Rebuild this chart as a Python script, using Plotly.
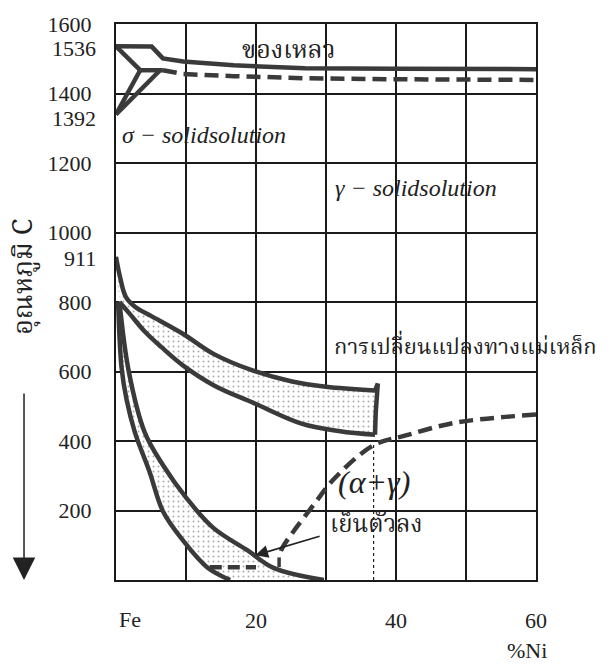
import plotly.graph_objects as go

# ---------------- data (drawn scale) ----------------
# liquidus (solid) and solidus (dashed) near the top
liq_x = [0, 5.1, 6.7, 9.6, 16.8, 27, 40, 60]
liq_t = [1536, 1535, 1501, 1492, 1481, 1473, 1471, 1470]
sol_x = [6.7, 9.6, 16.8, 27, 40, 60]
sol_t = [1467, 1456, 1450, 1444, 1441, 1439]
# delta region lines
d1_x = [0, 3.45];  d1_t = [1536, 1467]
d2_x = [0, 3.45];  d2_t = [1340, 1467]
d3_x = [0, 6.3];   d3_t = [1340, 1467]
d4_x = [3.45, 6.7]; d4_t = [1467, 1467]

# upper (heating) transformation band
u1_x = [0, 0.6, 1.4, 2.8, 5.0, 9.6, 14, 19.5, 25, 30, 37]
u1_t = [930, 870, 815, 785, 760, 708, 650, 603, 572, 556, 545]
u2_x = [0.5, 2.0, 4.1, 6.5, 9.6, 14, 19.7, 26.5, 32, 37]
u2_t = [800, 765, 715, 670, 617, 560, 509, 450, 428, 418]
ue_x = [37, 37.4, 37.1, 37]
ue_t = [545, 565, 480, 418]

# lower (cooling) transformation band
l1_x = [0.3, 0.8, 1.5, 2.7, 4.8, 6.7, 9.6, 13.0, 16.3]
l1_t = [800, 610, 520, 425, 311, 198, 113, 37, 0]
l2_x = [0.5, 1.8, 4.1, 6.7, 10.1, 13.9, 18.8, 22.5, 29.7]
l2_t = [800, 603, 425, 331, 235, 150, 85, 35, 0]

# magnetic transformation (dashed)
mag_x = [60, 48.6, 41.4, 36.8, 31.2, 28.3, 25.4, 23.7, 23.3]
mag_t = [476, 453, 416, 388, 292, 218, 141, 90, 65]
magtick_x = [23.3, 23.3]; magtick_t = [65, 37]
magbot_x = [13.4, 20.0]; magbot_t = [37, 37]
# thin dotted vertical
vline_x = [36.8, 36.8]; vline_t = [0, 400]

# axes
x_ticks = [0, 10, 20, 30, 40, 50, 60]
x_labels = ["", "", "20", "", "40", "", "60"]
y_ticks = [0, 200, 400, 600, 800, 1000, 1200, 1400, 1600]
y_labels = ["", "200", "400", "600", "800", "1000", "1200", "1400", "1600"]
extra_y_pos = [1530, 1328, 925]
extra_y_text = ["1536", "1392", "911"]

LC = "#3a3a3a"
LW = 4.5
SERIF = "Liberation Serif"
THAI = "Norasi, Kinnari, Laksaman, Garuda, Noto Serif Thai, Noto Sans Thai Looped, Loma, Noto Sans Thai, sans-serif"

fig = go.Figure()

def line(x, y, dash=None, width=LW, shape="spline", color=LC):
    fig.add_trace(go.Scatter(x=x, y=y, mode="lines",
                             line=dict(color=color, width=width, dash=dash, shape=shape),
                             hoverinfo="skip", showlegend=False))

# hatched fills
fig.add_trace(go.Scatter(x=u1_x + ue_x[1:] + u2_x[::-1], y=u1_t + ue_t[1:] + u2_t[::-1],
                         mode="lines", fill="toself", fillcolor="white",
                         fillpattern=dict(shape=".", fgcolor="#555", bgcolor="white", size=5, solidity=0.12),
                         line=dict(width=0, shape="spline"), hoverinfo="skip", showlegend=False))
fig.add_trace(go.Scatter(x=l1_x + l2_x[::-1], y=l1_t + l2_t[::-1],
                         mode="lines", fill="toself", fillcolor="white",
                         fillpattern=dict(shape=".", fgcolor="#555", bgcolor="white", size=5, solidity=0.12),
                         line=dict(width=0, shape="spline"), hoverinfo="skip", showlegend=False))

line(liq_x, liq_t, shape="linear")
line(sol_x, sol_t, dash="14px,7px", shape="linear")
line(d1_x, d1_t, shape="linear")
line(d2_x, d2_t, shape="linear")
line(d3_x, d3_t, shape="linear")
line(d4_x, d4_t, shape="linear")
line(u1_x, u1_t)
line(u2_x, u2_t)
line(ue_x, ue_t, shape="linear")
line(l1_x, l1_t)
line(l2_x, l2_t)
line(mag_x, mag_t, dash="14px,7px")
line(magtick_x, magtick_t, shape="linear", width=3.5)
line(magbot_x, magbot_t, dash="12px,6px", shape="linear")
line(vline_x, vline_t, dash="3px,3px", width=1.2, shape="linear", color="#222")

ann = []
def txt(x, y, s, size=22, xanchor="left", family=SERIF, xref="x", yref="y", angle=0):
    ann.append(dict(x=x, y=y, xref=xref, yref=yref, text=s, showarrow=False,
                    xanchor=xanchor, yanchor="middle", textangle=angle,
                    font=dict(size=size, family=family, color="#222")))

txt(24.7, 1521, "ของเหลว", size=25, xanchor="center", family=THAI)
txt(0.5, 1280, "<i>σ − solidsolution</i>", size=24)
txt(31.0, 1127, "<i>γ − solidsolution</i>", size=24)
txt(30.9, 668, "การเปลี่ยนแปลงทางแม่เหล็ก", size=22, family=THAI)
txt(31.4, 282, "<i>(α+γ)</i>", size=32)
txt(-0.5, 311, "<i>α −slidsolution</i>", size=24)
txt(30.3, 156, "เย็นตัวลง", size=24, family=THAI)

for p, s in zip(extra_y_pos, extra_y_text):
    ann.append(dict(x=0, y=p, xref="paper", yref="y", text=s, showarrow=False,
                    xanchor="right", yanchor="middle", xshift=-18,
                    font=dict(size=22, family=SERIF, color="#222")))

ann.append(dict(x=2.0, y=-0.0708, xref="x", yref="paper", text="Fe", showarrow=False,
                xanchor="center", yanchor="middle", font=dict(size=22, family=SERIF, color="#222")))
ann.append(dict(x=0.979, y=-0.126, xref="paper", yref="paper", text="%Ni", showarrow=False,
                xanchor="center", yanchor="middle", font=dict(size=22, family=SERIF, color="#222")))
ann.append(dict(x=-0.217, y=0.545, xref="paper", yref="paper", text="อุณหภูมิ C", showarrow=False,
                textangle=-90, xanchor="center", yanchor="middle",
                font=dict(size=27, family=THAI, color="#222")))
# cooling arrow to the curve
ann.append(dict(x=19.9, y=71, xref="x", yref="y", ax=29.3, ay=127, axref="x", ayref="y",
                text="", showarrow=True, arrowhead=2, arrowsize=1.6, arrowwidth=1.6, arrowcolor="#222"))
# big down arrow on the left
ann.append(dict(x=-0.219, y=0.0, xref="paper", yref="paper", ax=0, ay=-188,
                text="", showarrow=True, arrowhead=2, arrowsize=3, arrowwidth=1.5, arrowcolor="#222"))

fig.update_layout(
    width=608, height=665,
    margin=dict(l=116, r=72, t=15, b=85),
    paper_bgcolor="white", plot_bgcolor="white",
    annotations=ann,
    xaxis=dict(range=[0, 60], tickmode="array", tickvals=x_ticks, ticktext=x_labels,
               showgrid=True, gridcolor="#1a1a1a", gridwidth=2, zeroline=False,
               showline=True, linecolor="#1a1a1a", linewidth=2, mirror=True,
               ticks="", ticklabelstandoff=20,
               tickfont=dict(size=22, family=SERIF, color="#222")),
    yaxis=dict(range=[0, 1600], tickmode="array", tickvals=y_ticks, ticktext=y_labels,
               showgrid=True, gridcolor="#1a1a1a", gridwidth=2, zeroline=False,
               showline=True, linecolor="#1a1a1a", linewidth=2, mirror=True,
               ticks="", ticklabelstandoff=18,
               tickfont=dict(size=22, family=SERIF, color="#222")),
)

fig.write_html("out.html")
